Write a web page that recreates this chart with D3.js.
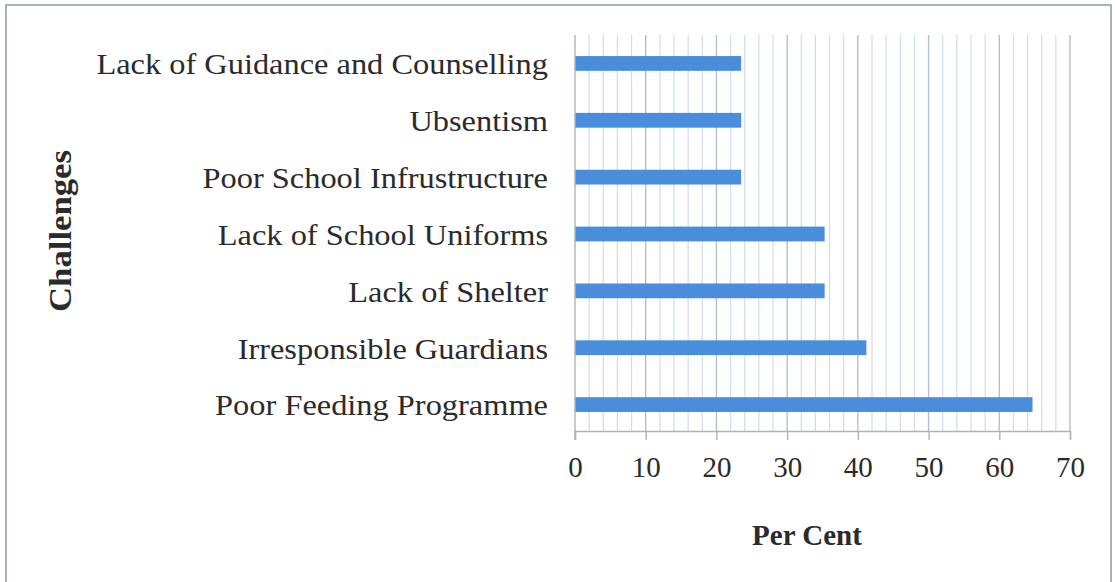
<!DOCTYPE html>
<html>
<head>
<meta charset="utf-8">
<script src="https://cdn.jsdelivr.net/npm/d3@7/dist/d3.min.js"></script>
<style>
  html, body { margin: 0; padding: 0; background: #ffffff; }
  svg { display: block; }
  text { font-family: "Liberation Serif", "Times New Roman", serif; fill: #2b2b2b; }
</style>
</head>
<body>
<svg id="chart" width="1115" height="582"></svg>
<script>
// Challenges faced by learners (per cent of respondents)
const categories = [
  "Lack of Guidance and Counselling",
  "Ubsentism",
  "Poor School Infrustructure",
  "Lack of School Uniforms",
  "Lack of Shelter",
  "Irresponsible Guardians",
  "Poor Feeding Programme"
];
const percentValues = [23.5, 23.5, 23.5, 35.3, 35.3, 41.2, 64.7];
const tickValues = [0, 10, 20, 30, 40, 50, 60, 70];
const xAxisTitle = "Per Cent";
const yAxisTitle = "Challenges";

const svg = d3.select("#chart");
const plot = { left: 575, right: 1070, top: 35, bottom: 431 };

const x = d3.scaleLinear().domain([0, 70]).range([plot.left, plot.right]);
const y = d3.scaleBand()
  .domain(categories)
  .range([plot.top, plot.bottom + 2])
  .paddingInner(0.74)
  .paddingOuter(0.37);

// outer frame
svg.append("rect")
  .attr("x", 6).attr("y", 5)
  .attr("width", 1105).attr("height", 600)
  .attr("fill", "none")
  .attr("stroke", "#a7b0bb")
  .attr("stroke-width", 2);

// vertical gridlines: minor every 2, major every 10
const minor = d3.range(2, 70, 2).filter(v => v % 10 !== 0);
svg.append("g").selectAll("line").data(minor).join("line")
  .attr("x1", d => x(d)).attr("x2", d => x(d))
  .attr("y1", plot.top).attr("y2", plot.bottom)
  .attr("stroke", "#cfdeee").attr("stroke-width", 1.2);

svg.append("g").selectAll("line").data(tickValues.filter(v => v > 0)).join("line")
  .attr("x1", d => x(d)).attr("x2", d => x(d))
  .attr("y1", plot.top).attr("y2", plot.bottom)
  .attr("stroke", "#b3c0cf").attr("stroke-width", 1.4);

// bars
svg.append("g").selectAll("rect").data(categories).join("rect")
  .attr("x", x(0))
  .attr("y", d => y(d))
  .attr("width", (d, i) => x(percentValues[i]) - x(0))
  .attr("height", y.bandwidth())
  .attr("fill", "#4a8edb");

// bottom axis
const xAxis = d3.axisBottom(x).tickValues(tickValues).tickSize(9).tickPadding(16);
const gx = svg.append("g").attr("transform", `translate(0,${plot.bottom})`).call(xAxis);
gx.select(".domain").attr("stroke", "#aab4be").attr("stroke-width", 1.4);
gx.selectAll(".tick line").attr("stroke", "#aab4be").attr("stroke-width", 1.4);
gx.selectAll(".tick text")
  .attr("font-size", 29)
  .attr("font-family", "Liberation Serif, Times New Roman, serif")
  .attr("fill", "#2b2b2b");

// zero line
svg.append("line")
  .attr("x1", x(0)).attr("x2", x(0))
  .attr("y1", plot.top).attr("y2", plot.bottom + 9)
  .attr("stroke", "#aab4be").attr("stroke-width", 1.4);

// category labels (slightly widened serif face)
svg.append("g").selectAll("text").data(categories).join("text")
  .attr("transform", d => `translate(548,${y(d) + y.bandwidth() / 2}) scale(1.08,1)`)
  .attr("dy", "0.36em")
  .attr("text-anchor", "end")
  .attr("font-size", 30)
  .text(d => d);

// axis titles
svg.append("text")
  .attr("x", 807).attr("y", 545)
  .attr("text-anchor", "middle")
  .attr("font-size", 29)
  .attr("font-weight", "bold")
  .text(xAxisTitle);

svg.append("text")
  .attr("transform", "translate(71,231) rotate(-90) scale(1.12,1)")
  .attr("text-anchor", "middle")
  .attr("font-size", 31)
  .attr("font-weight", "bold")
  .text(yAxisTitle);
</script>
</body>
</html>
